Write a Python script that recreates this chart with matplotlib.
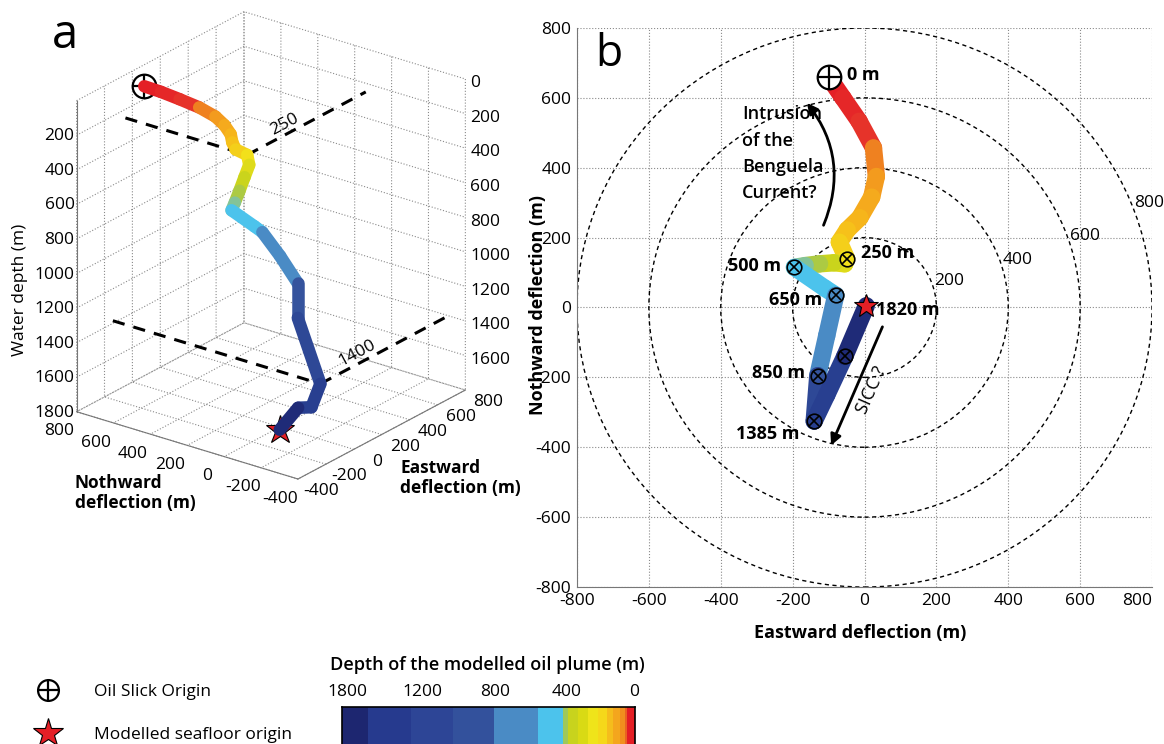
import numpy as np
import matplotlib.pyplot as plt
from matplotlib.lines import Line2D
from matplotlib.collections import LineCollection
from matplotlib.colors import ListedColormap, to_rgb
from matplotlib.patches import FancyArrowPatch, Circle
from matplotlib.legend_handler import HandlerTuple
from mpl_toolkits.mplot3d.art3d import Line3DCollection

plt.rcParams['font.family'] = ['Open Sans', 'DejaVu Sans']
plt.rcParams['axes.unicode_minus'] = False
plt.rcParams['grid.linestyle'] = ':'
plt.rcParams['grid.color'] = '#8a8a8a'
plt.rcParams['grid.linewidth'] = 0.8

# modelled plume path: eastward / northward deflection (m) and depth (m)
east = [-100, -60, -15, 25, 33, 20, -13, -48, -70, -50, -55, -85, -125, -165, -195,
        -110, -80, -105, -130, -130, -140, -105, -55, 5]
north = [660, 600, 533, 457, 375, 316, 257, 222, 187, 140, 125, 128, 125, 120, 115,
         55, 35, -80, -195, -195, -325, -250, -140, 5]
depth = [0, 30, 70, 110, 140, 165, 185, 205, 225, 250, 300, 360, 420, 470, 500,
         610, 650, 740, 850, 1050, 1385, 1560, 1620, 1820]

# points marked on the plan view
marked_idx = [9, 14, 16, 18, 20, 22]
marked_labels = ['250 m', '500 m', '650 m', '850 m', '1385 m', '']

# horizontal reference planes in the 3D view
plane_idx = [9, 20]
plane_labels = ['250', '1400']

circle_radii = [200, 400, 600, 800]

# axis ticks of the 3D view
horiz_ticks = list(range(-400, 801, 200))
depth_ticks = list(range(0, 1801, 200))

# colour bar (blocks along the bar, deep -> surface)
cb_edges = [0, 26.6, 69.3, 111.0, 152.6, 196.6, 221.6, 226.6, 236.6, 246.6, 256.6,
            265, 271.6, 278.3, 283.3, 285, 293.3]
cb_ticks = [5.3, 80.3, 153.8, 225.3, 292.3]
cb_ticklabels = ['1800', '1200', '800', '400', '0']

# depth -> colour of the plume
col_depth = [0, 75, 115, 160, 205, 250, 320, 400, 450, 499, 500, 649, 650, 849, 850,
             1049, 1050, 1384, 1385, 1619, 1620, 1900]
col_hex = ['#e41f26', '#e6342a', '#f08c1f', '#f5a71d', '#f6c11a', '#f2e01b', '#d6d91a',
           '#bdcf1f', '#93c27a', '#6fc4c0', '#4cc3ec', '#4cc3ec', '#4a8bc5', '#4a8bc5',
           '#35539d', '#35539d', '#2e4896', '#2e4896', '#283f90', '#283f90', '#1f2b78',
           '#1f2b78']
cb_colors = ['#1d2670', '#263a8e', '#2d4596', '#33519c', '#4a8bc5', '#4cc3ec', '#9fc85a',
             '#c8d31d', '#d9da14', '#efe41a', '#f5d81a', '#f5bd1c', '#f4a61d', '#f18f1e',
             '#ea6222', '#e41e25']

col_rgb = np.array([to_rgb(c) for c in col_hex])


def plume_color(d):
    return tuple(np.interp(d, col_depth, col_rgb[:, k]) for k in range(3))


east = np.array(east, float)
north = np.array(north, float)
depth = np.array(depth, float)
seg_cols = [plume_color(d) for d in depth[:-1]]

fig = plt.figure(figsize=(11.64, 7.44), dpi=100)

# ---------------- panel b : plan view ----------------
axb = fig.add_axes([0.4957, 0.211, 0.494, 0.7514])
axb.set_xlim(-800, 800)
axb.set_ylim(-800, 800)
axb.set_xticks(range(-800, 801, 200))
axb.set_yticks(range(-800, 801, 200))
axb.grid(True, ls=':', color='#8a8a8a', lw=0.8)
axb.set_axisbelow(True)
for s in ['top', 'right']:
    axb.spines[s].set_visible(False)
for s in ['left', 'bottom']:
    axb.spines[s].set_color('#777777')
axb.tick_params(length=0, labelsize=12.5, pad=4)
axb.get_xticklabels()[-1].set_ha('right')
axb.set_xlabel('Eastward deflection (m)', fontsize=13, fontweight='bold')
axb.set_ylabel('Nothward deflection (m)', fontsize=13, fontweight='bold')
axb.xaxis.set_label_coords(0.492, -0.066)
axb.yaxis.set_label_coords(-0.052, 0.504)

for r in circle_radii:
    axb.add_patch(Circle((0, 0), r, fill=False, ec='black', lw=1.0, ls=(0, (3, 2.5))))
for r, ang in zip(circle_radii, [22, 20, 20, 22]):
    t = np.deg2rad(ang)
    axb.text(r * np.cos(t) + 8, r * np.sin(t), str(r), fontsize=12.5, ha='left', va='center')

pts = np.column_stack([east, north])
segs = np.stack([pts[:-1], pts[1:]], axis=1)
lc = LineCollection(segs, colors=seg_cols, linewidths=12.5)
lc.set_capstyle('round')
lc.set_joinstyle('round')
axb.add_collection(lc)

for i in marked_idx:
    axb.plot(east[i], north[i], 'o', ms=10.5, mfc=plume_color(depth[i]), mec='black', mew=1.2, zorder=4)
    axb.plot(east[i], north[i], 'x', ms=7, mec='black', mew=1.2, zorder=5)
axb.plot(east[0], north[0], 'o', ms=17, mfc='white', mec='black', mew=1.6, zorder=5)
axb.plot(east[0], north[0], '+', ms=17, mec='black', mew=1.6, zorder=6)
axb.plot(east[-1], north[-1], '*', ms=18, mfc='#e41f26', mec='black', mew=0.8, zorder=6)

lab_kw = dict(fontsize=13, fontweight='bold', va='center')
axb.text(east[0] + 50, north[0] + 5, '0 m', ha='left', **lab_kw)
axb.text(east[9] + 40, north[9] + 17, marked_labels[0], ha='left', **lab_kw)
axb.text(east[14] - 38, north[14] + 3, marked_labels[1], ha='right', **lab_kw)
axb.text(east[16] - 38, north[16] - 13, marked_labels[2], ha='right', **lab_kw)
axb.text(east[18] - 36, north[18] + 8, marked_labels[3], ha='right', **lab_kw)
axb.text(east[20] - 40, north[20] - 38, marked_labels[4], ha='right', **lab_kw)
axb.text(east[-1] + 28, north[-1] - 12, '1820 m', ha='left', **lab_kw)

axb.text(-340, 440, 'Intrusion\nof the\nBenguela\nCurrent?', fontsize=13,
         fontweight='semibold', ha='left', va='center', linespacing=1.6)
axb.add_patch(FancyArrowPatch((-117, 228), (-165, 592), connectionstyle='arc3,rad=0.3',
                              arrowstyle='-|>', mutation_scale=16, lw=2, color='black'))
axb.add_patch(FancyArrowPatch((53, -48), (-96, -402), arrowstyle='-|>',
                              mutation_scale=16, lw=2, color='black'))
axb.text(20, -236, 'SICC ?', fontsize=13, rotation=66, ha='center', va='center')

fig.text(609 / 1164, 1 - 55 / 744, 'b', fontsize=32, ha='center', va='center')

# ---------------- panel a : 3D view ----------------
axa = fig.add_axes([-0.0142, 0.2837, 0.481, 0.7527], projection='3d')
axa.set_proj_type('ortho')
axa.view_init(elev=23.7, azim=-142.9)
axa.set_box_aspect((1, 1, 1.224), zoom=0.9)
axa.set_xlim(-400, 800)
axa.set_ylim(-400, 800)
axa.set_zlim(1800, 0)
axa.set_xticks(horiz_ticks)
axa.set_yticks(horiz_ticks)
axa.set_zticks(depth_ticks)
for ax_ in (axa.xaxis, axa.yaxis, axa.zaxis):
    ax_.set_tick_params(label1On=False, label2On=False)
    ax_.set_pane_color((1, 1, 1, 0))
    ax_.line.set_color('#777777')
    ax_._axinfo['tick']['inward_factor'] = 0.0
    ax_._axinfo['tick']['outward_factor'] = 0.0
axa.set_facecolor('none')

xyz = np.column_stack([east, north, depth])
segs3 = np.stack([xyz[:-1], xyz[1:]], axis=1)
lc3 = Line3DCollection(segs3, colors=seg_cols, linewidths=9)
lc3.set_capstyle('round')
axa.add_collection3d(lc3)

for i, lab in zip(plane_idx, plane_labels):
    axa.plot([east[i], east[i]], [800, north[i]], [depth[i], depth[i]], color='black',
             lw=2.2, ls=(0, (4, 3)))
    axa.plot([east[i], 800], [north[i], north[i]], [depth[i], depth[i]], color='black',
             lw=2.2, ls=(0, (4, 3)))
    axa.text(east[i] + 320, north[i] + 40, depth[i] - 25, lab, 'x', fontsize=12.5,
             ha='center', va='center')

axa.plot([east[0]], [north[0]], [depth[0]], 'o', ms=17, mfc='white', mec='black', mew=1.6)
axa.plot([east[0]], [north[0]], [depth[0]], '+', ms=17, mec='black', mew=1.6)
axa.plot([east[-1]], [north[-1]], [depth[-1]], '*', ms=21, mfc='#e41f26', mec='black', mew=0.8)

# tick labels of the 3D view
tk = dict(fontsize=12.5, va='center')
for n in horiz_ticks:
    axa.text(-525, n, 1860, str(n), ha='center', **tk)
for e in horiz_ticks:
    axa.text(e, -525, 1830, str(e), ha='center', **tk)
for d in depth_ticks[1:]:
    axa.text(-415, 800, d, str(d), ha='right', **tk)
for d in depth_ticks[:-1]:
    axa.text(835, -400, d + 40, str(d), ha='left', **tk)

fig.text(20 / 1164, 1 - 290 / 744, 'Water depth (m)', rotation=90, fontsize=12.5,
         ha='center', va='center')
fig.text(75 / 1164, 1 - 493 / 744, 'Nothward\ndeflection (m)', fontsize=12.5,
         fontweight='bold', ha='left', va='center')
fig.text(400 / 1164, 1 - 478 / 744, 'Eastward\ndeflection (m)', fontsize=12.5,
         fontweight='bold', ha='left', va='center')
fig.text(65 / 1164, 1 - 35 / 744, 'a', fontsize=34, ha='center', va='center')

# ---------------- legend ----------------
h_slick = (Line2D([], [], ls='none', marker='o', ms=15, mfc='white', mec='black', mew=1.6),
           Line2D([], [], ls='none', marker='+', ms=15, mec='black', mew=1.6))
h_star = Line2D([], [], ls='none', marker='*', ms=22, mfc='#e41f26', mec='black', mew=0.8)
fig.legend([h_slick, h_star], ['Oil Slick Origin', 'Modelled seafloor origin'],
           handler_map={tuple: HandlerTuple(ndivide=1)}, loc='upper left',
           bbox_to_anchor=(0.017, 0.102), frameon=False, fontsize=12.5,
           labelspacing=1.55, handletextpad=2.0, handlelength=1.4)

# ---------------- colour bar ----------------
cax = fig.add_axes([341.7 / 1164, -0.01, 293.3 / 1164, 0.0597])
cax.pcolormesh(cb_edges, [0, 1], np.arange(len(cb_colors))[None, :],
               cmap=ListedColormap(cb_colors), shading='flat')
cax.set_xlim(cb_edges[0], cb_edges[-1])
cax.set_ylim(0, 1)
cax.set_yticks([])
cax.set_xticks(cb_ticks)
cax.set_xticklabels(cb_ticklabels)
cax.xaxis.tick_top()
cax.tick_params(length=0, labelsize=12.5, pad=5)
for s in cax.spines.values():
    s.set_linewidth(1.2)
fig.text(487 / 1164, 1 - 665 / 744, 'Depth of the modelled oil plume (m)', fontsize=13,
         fontweight='semibold', ha='center', va='center')

fig.savefig('out.png', dpi=100)
